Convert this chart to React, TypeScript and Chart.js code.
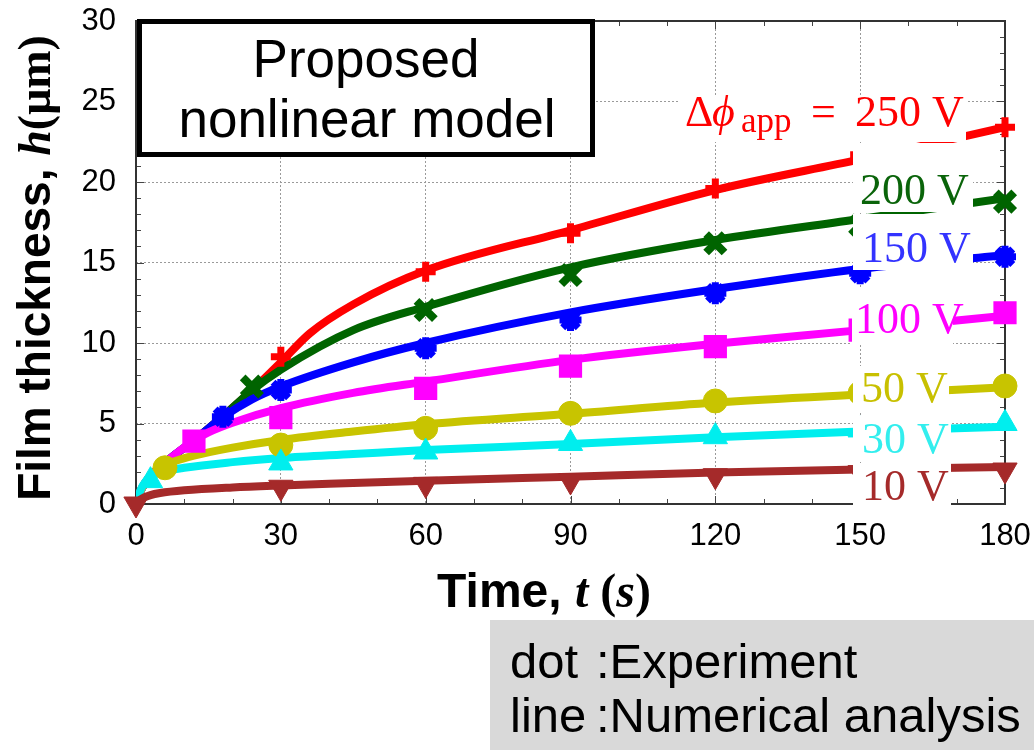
import React, { useEffect, useRef } from "react";
import { Chart, registerables } from "chart.js";

Chart.register(...registerables);

// ---------- axis ticks ----------
const xTickValues = [0, 30, 60, 90, 120, 150, 180];
const yTickValues = [0, 5, 10, 15, 20, 25, 30];

// ---------- experiment (dots) ----------
const exp10T = [0, 30, 60, 90, 120, 150, 180];
const exp10H = [0, 1.04, 1.22, 1.43, 1.76, 1.95, 2.11];
const exp30T = [3, 30, 60, 90, 120, 150, 180];
const exp30H = [1.45, 2.55, 3.23, 3.76, 4.18, 4.6, 5.0];
const exp50T = [6, 30, 60, 90, 120, 150, 180];
const exp50H = [2.25, 3.66, 4.7, 5.63, 6.4, 6.9, 7.33];
const exp100T = [12, 30, 60, 90, 120, 150, 180];
const exp100H = [3.9, 5.36, 7.18, 8.57, 9.77, 10.8, 11.88];
const exp150T = [18, 30, 60, 90, 120, 150, 180];
const exp150H = [5.42, 7.08, 9.67, 11.43, 13.09, 14.33, 15.36];
const exp200T = [24, 60, 90, 120, 150, 180];
const exp200H = [7.29, 12.05, 14.22, 16.19, 17.3, 18.78];
const exp250T = [30, 60, 90, 120, 150, 180];
const exp250H = [9.15, 14.43, 16.81, 19.6, 21.7, 23.4];

// ---------- numerical analysis (lines) ----------
const num10T = [0, 1, 3, 5, 10, 20, 30, 45, 60, 90, 120, 150, 180];
const num10H = [0, 0.3, 0.55, 0.68, 0.85, 1.03, 1.15, 1.3, 1.45, 1.7, 1.95, 2.15, 2.3];
const num30T = [0, 1, 2, 3, 5, 10, 20, 30, 45, 60, 90, 120, 150, 180];
const num30H = [0, 0.9, 1.4, 1.7, 1.95, 2.25, 2.6, 2.85, 3.1, 3.35, 3.72, 4.15, 4.5, 4.8];
const num50T = [0, 1, 2, 3, 5, 8, 12, 20, 30, 45, 60, 90, 120, 150, 180];
const num50H = [0, 0.85, 1.35, 1.75, 2.25, 2.65, 3.0, 3.5, 3.98, 4.5, 4.95, 5.6, 6.3, 6.8, 7.25];
const num100T = [0, 1, 2, 3, 5, 8, 12, 15, 20, 30, 45, 60, 90, 120, 150, 180];
const num100H = [0, 0.85, 1.35, 1.75, 2.3, 3.05, 3.95, 4.45, 5.05, 5.95, 6.9, 7.6, 8.95, 9.95, 10.8, 11.7];
const num150T = [0, 1, 2, 3, 5, 8, 12, 18, 24, 30, 45, 60, 90, 120, 150, 180];
const num150H = [0, 0.85, 1.35, 1.75, 2.3, 3.05, 3.95, 5.4, 6.5, 7.3, 8.8, 10.0, 11.9, 13.35, 14.6, 15.45];
const num200T = [0, 1, 2, 3, 5, 8, 12, 18, 24, 30, 45, 60, 90, 120, 150, 180];
const num200H = [0, 0.85, 1.35, 1.75, 2.3, 3.05, 3.95, 5.45, 7.05, 8.35, 10.8, 12.25, 14.7, 16.4, 17.7, 19.0];
const num250T = [0, 1, 2, 3, 5, 8, 12, 18, 24, 30, 36, 45, 60, 90, 120, 150, 180];
const num250H = [0, 0.85, 1.35, 1.75, 2.3, 3.05, 3.95, 5.45, 7.05, 8.8, 10.6, 12.4, 14.5, 17.0, 19.5, 21.4, 23.4];

const seriesNames = ["10 V", "30 V", "50 V", "100 V", "150 V", "200 V", "250 V"];
const seriesColors = ["#a52a2a", "#00eeee", "#c8c400", "#ff00ff", "#0000ff", "#006400", "#ff0000"];
const labelColors = ["#a52a2a", "#33eeee", "#c8c000", "#ff00ff", "#3333ff", "#0a640a", "#ff0000"];

const SANS = '"Liberation Sans", Arial, Helvetica, sans-serif';
const SERIF = '"Liberation Serif", "DejaVu Serif", "Times New Roman", serif';

const pts = (t: number[], h: number[]) => t.map((v, i) => ({ x: v, y: h[i] }));

const expT = [exp10T, exp30T, exp50T, exp100T, exp150T, exp200T, exp250T];
const expH = [exp10H, exp30H, exp50H, exp100H, exp150H, exp200H, exp250H];
const numT = [num10T, num30T, num50T, num100T, num150T, num200T, num250T];
const numH = [num10H, num30H, num50H, num100H, num150H, num200H, num250H];

const markerStyles: any[] = [
  { pointStyle: "triangle", rotation: 180, radius: 14, bw: 1 },
  { pointStyle: "triangle", rotation: 0, radius: 14, bw: 1 },
  { pointStyle: "circle", rotation: 0, radius: 12, bw: 1 },
  { pointStyle: "rect", rotation: 0, radius: 15, bw: 2 },
  { pointStyle: "star", rotation: 0, radius: 11, bw: 7 },
  { pointStyle: "crossRot", rotation: 0, radius: 13, bw: 8 },
  { pointStyle: "cross", rotation: 0, radius: 10, bw: 7 },
];

type Run = { text: string; font: string; dy?: number };

function drawRuns(ctx: CanvasRenderingContext2D, runs: Run[], x: number, y: number, align: "left" | "center") {
  let total = 0;
  const widths = runs.map((r) => {
    ctx.font = r.font;
    const w = ctx.measureText(r.text).width;
    total += w;
    return w;
  });
  let cx = align === "center" ? x - total / 2 : x;
  ctx.textAlign = "left";
  ctx.textBaseline = "alphabetic";
  runs.forEach((r, i) => {
    ctx.font = r.font;
    ctx.fillText(r.text, cx, y + (r.dy || 0));
    cx += widths[i];
  });
}

const decoPlugin = {
  id: "deco",
  beforeDatasetsDraw(chart: any) {
    const { ctx, chartArea: a, scales } = chart;
    const xs = scales.x;
    const ys = scales.y;
    ctx.save();
    ctx.strokeStyle = "#444";
    ctx.lineWidth = 1;
    ctx.beginPath();
    for (let v = 0; v <= 30; v += 1) {
      const py = Math.round(ys.getPixelForValue(v)) + 0.5;
      const len = v % 5 === 0 ? 8 : 5;
      ctx.moveTo(a.left, py);
      ctx.lineTo(a.left + len, py);
      ctx.moveTo(a.right, py);
      ctx.lineTo(a.right - len, py);
    }
    for (let v = 0; v <= 180; v += 10) {
      const px = Math.round(xs.getPixelForValue(v)) + 0.5;
      const len = v % 30 === 0 ? 8 : 5;
      ctx.moveTo(px, a.bottom);
      ctx.lineTo(px, a.bottom - len);
      ctx.moveTo(px, a.top);
      ctx.lineTo(px, a.top + len);
    }
    ctx.stroke();
    ctx.lineWidth = 2;
    ctx.strokeStyle = "#333";
    ctx.strokeRect(a.left, a.top, a.right - a.left, a.bottom - a.top);
    ctx.restore();
  },
  afterDatasetsDraw(chart: any) {
    const { ctx } = chart;
    ctx.save();
    // white boxes behind the series labels
    const boxes = [
      [678, 96, 966, 142],
      [853, 143, 973, 212],
      [853, 214, 973, 270],
      [852, 288, 953, 344],
      [853, 366, 949, 413],
      [853, 416, 951, 462],
      [853, 463, 951, 507],
    ];
    ctx.fillStyle = "#ffffff";
    boxes.forEach((b) => ctx.fillRect(b[0], b[1], b[2] - b[0], b[3] - b[1]));

    const F = `44px ${SERIF}`;
    // 250 V label with Δφ_app
    ctx.fillStyle = labelColors[6];
    ctx.textAlign = "left";
    ctx.textBaseline = "alphabetic";
    ctx.font = F;
    ctx.fillText("Δ", 685, 126);
    ctx.font = `italic 44px ${SERIF}`;
    ctx.fillText("ϕ", 712, 126);
    ctx.font = `35px ${SERIF}`;
    ctx.fillText("app", 741, 132);
    ctx.font = F;
    ctx.fillText("=", 811, 126);
    ctx.fillText("250 V", 855, 126);

    const others: [number, number, number][] = [
      [0, 862, 500],
      [1, 862, 453],
      [2, 861, 402],
      [3, 855, 333],
      [4, 862, 262],
      [5, 860, 204],
    ];
    ctx.font = F;
    others.forEach(([i, x, y]) => {
      ctx.fillStyle = labelColors[i];
      ctx.fillText(seriesNames[i], x, y);
    });

    // title box
    ctx.fillStyle = "#ffffff";
    ctx.fillRect(139.5, 21.5, 453, 133);
    ctx.strokeStyle = "#000";
    ctx.lineWidth = 5;
    ctx.strokeRect(139.5, 21.5, 453, 133);
    ctx.fillStyle = "#000";
    ctx.font = `53px ${SANS}`;
    ctx.textAlign = "center";
    ctx.fillText("Proposed", 366, 77);
    ctx.fillText("nonlinear model", 367, 137);

    // note box
    ctx.fillStyle = "#d9d9d9";
    ctx.fillRect(490, 620, 544, 130);
    ctx.fillStyle = "#000";
    ctx.textAlign = "left";
    ctx.font = `49px ${SANS}`;
    ctx.fillText("dot", 510, 678);
    ctx.fillText(":Experiment", 596, 678);
    ctx.fillText("line", 510, 732);
    ctx.fillText(":Numerical analysis", 596, 732);

    // x axis title
    ctx.fillStyle = "#000";
    drawRuns(
      ctx,
      [
        { text: "Time, ", font: `bold 48px ${SANS}` },
        { text: "t", font: `bold italic 48px ${SERIF}` },
        { text: " (", font: `bold 48px ${SERIF}` },
        { text: "s", font: `bold italic 48px ${SERIF}` },
        { text: ")", font: `bold 48px ${SERIF}` },
      ],
      544,
      607,
      "center"
    );

    // y axis title
    ctx.save();
    ctx.translate(50, 268);
    ctx.rotate(-Math.PI / 2);
    drawRuns(
      ctx,
      [
        { text: "Film thickness, ", font: `bold 46px ${SANS}` },
        { text: "h", font: `bold italic 46px ${SERIF}` },
        { text: "(μm)", font: `bold 46px ${SERIF}` },
      ],
      0,
      0,
      "center"
    );
    ctx.restore();

    ctx.restore();
  },
};

export default function App() {
  const canvasRef = useRef<HTMLCanvasElement | null>(null);

  useEffect(() => {
    if (!canvasRef.current) return;
    const markerSets = seriesNames.map((name, i) => ({
      label: `dot ${name}`,
      data: pts(expT[i], expH[i]),
      showLine: false,
      pointStyle: markerStyles[i].pointStyle,
      rotation: markerStyles[i].rotation,
      pointRadius: markerStyles[i].radius,
      pointBorderWidth: markerStyles[i].bw,
      pointBackgroundColor: seriesColors[i],
      pointBorderColor: seriesColors[i],
      clip: false as any,
    }));
    const lineSets = seriesNames.map((name, i) => ({
      label: `line ${name}`,
      data: pts(numT[i], numH[i]),
      showLine: true,
      borderColor: seriesColors[i],
      backgroundColor: seriesColors[i],
      borderWidth: 8,
      pointRadius: 0,
      cubicInterpolationMode: "monotone" as const,
      borderCapStyle: "round" as const,
      borderJoinStyle: "round" as const,
    }));

    const chart = new Chart(canvasRef.current, {
      type: "scatter",
      data: { datasets: [...markerSets, ...lineSets] as any },
      options: {
        animation: false,
        responsive: true,
        maintainAspectRatio: false,
        layout: { autoPadding: false, padding: { left: 0, top: 21, right: 29, bottom: 0 } },
        plugins: {
          legend: { display: false },
          tooltip: { enabled: false },
          title: { display: false },
        },
        scales: {
          x: {
            type: "linear",
            min: 0,
            max: 180,
            afterBuildTicks: (s: any) => {
              s.ticks = xTickValues.map((v) => ({ value: v }));
            },
            afterFit: (s: any) => {
              s.height = 246;
              s.paddingLeft = 0;
              s.paddingRight = 0;
            },
            grid: { color: "#9a9a9a", lineWidth: 1, drawTicks: false },
            border: { display: false, dash: [2, 2] },
            ticks: {
              padding: 14,
              color: "#000",
              font: { family: SANS, size: 31 },
              maxRotation: 0,
            },
          },
          y: {
            type: "linear",
            min: 0,
            max: 30,
            afterBuildTicks: (s: any) => {
              s.ticks = yTickValues.map((v) => ({ value: v }));
            },
            afterFit: (s: any) => {
              s.width = 136;
              s.paddingTop = 0;
              s.paddingBottom = 0;
            },
            grid: { color: "#9a9a9a", lineWidth: 1, drawTicks: false },
            border: { display: false, dash: [2, 2] },
            ticks: {
              padding: 20,
              color: "#000",
              font: { family: SANS, size: 31 },
            },
          },
        },
      },
      plugins: [decoPlugin],
    });
    return () => chart.destroy();
  }, []);

  return (
    <div style={{ position: "fixed", left: 0, top: 0, width: 1034, height: 750, background: "#fff" }}>
      <canvas ref={canvasRef} />
    </div>
  );
}
